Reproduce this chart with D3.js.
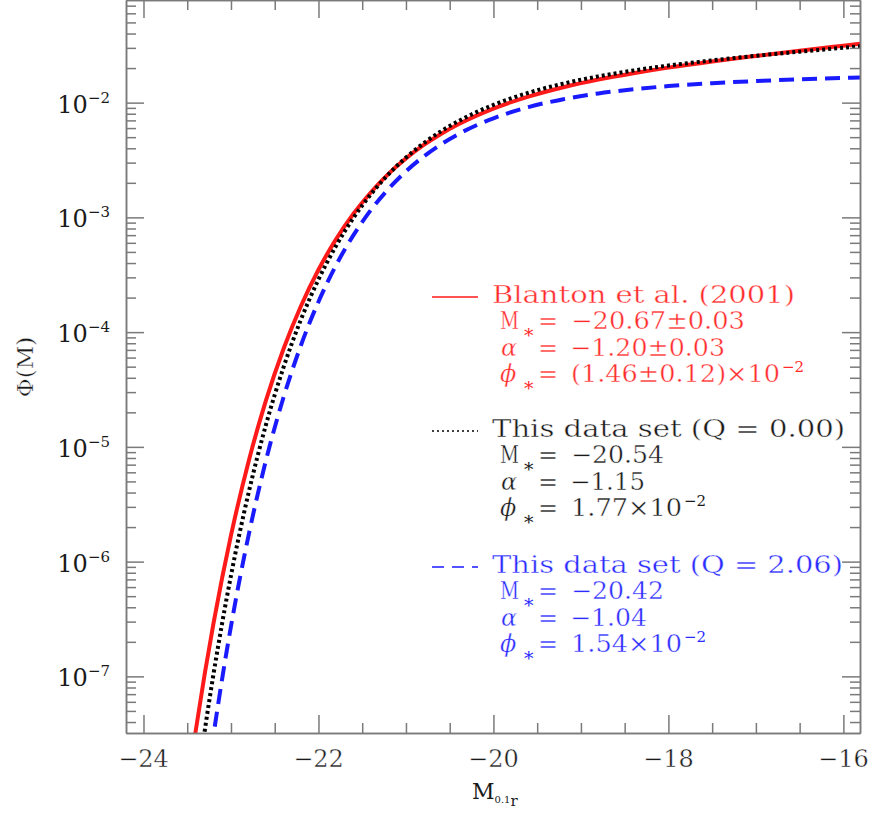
<!DOCTYPE html>
<html>
<head>
<meta charset="utf-8">
<script src="https://cdn.jsdelivr.net/npm/d3@7"></script>
<style>
body { margin: 0; background: #fff; }
text { font-family: "DejaVu Serif", "Liberation Serif", serif; }
text.thin { stroke: #fff; stroke-width: 0.4px; }
</style>
</head>
<body>
<svg></svg>
<script>
const width = 873;
const height = 814;

// absolute magnitude samples
const magnitudes = [-23.6, -23.5, -23.4, -23.3, -23.2, -23.1, -23.0, -22.8, -22.6, -22.4,
    -22.2, -22.0, -21.8, -21.6, -21.4, -21.2, -21.0, -20.8, -20.6, -20.4,
    -20.2, -20.0, -19.6, -19.2, -18.8, -18.4, -18.0, -17.5, -17.0, -16.5, -16.0, -15.8];

// log10 Phi(M) for each curve
const logPhiBlanton = [-8.560, -7.983, -7.458, -6.977, -6.538, -6.138, -5.772, -5.131, -4.595, -4.147,
    -3.772, -3.456, -3.192, -2.969, -2.781, -2.621, -2.486, -2.371, -2.273, -2.189,
    -2.116, -2.052, -1.948, -1.866, -1.799, -1.744, -1.695, -1.641, -1.593, -1.547, -1.504, -1.487];
const logPhiQ0 = [-9.246, -8.601, -8.009, -7.473, -6.981, -6.532, -6.121, -5.405, -4.807, -4.308,
    -3.890, -3.542, -3.250, -3.004, -2.798, -2.625, -2.479, -2.355, -2.250, -2.161,
    -2.085, -2.020, -1.914, -1.834, -1.771, -1.720, -1.677, -1.632, -1.592, -1.556, -1.522, -1.509];
const logPhiQ2 = [-10.025, -9.307, -8.654, -8.057, -7.513, -7.016, -6.563, -5.775, -5.117, -4.570,
    -4.114, -3.735, -3.418, -3.155, -2.935, -2.752, -2.599, -2.471, -2.364, -2.274,
    -2.199, -2.137, -2.039, -1.970, -1.920, -1.884, -1.856, -1.831, -1.812, -1.797, -1.785, -1.781];

// axis ticks
const xMajorTicks = [-24, -22, -20, -18, -16];
const yDecades = [-7, -6, -5, -4, -3, -2];

// legend text
const legendTitles = ["Blanton et al. (2001)", "This data set (Q = 0.00)", "This data set (Q = 2.06)"];
const mStarText = ["\u221220.67\u00b10.03", "\u221220.54", "\u221220.42"];
const alphaText = ["\u22121.20\u00b10.03", "\u22121.15", "\u22121.04"];
const phiStarText = ["(1.46\u00b10.12)\u00d710", "1.77\u00d710", "1.54\u00d710"];
const phiStarExp = ["\u22122", "\u22122", "\u22122"];
const seriesColors = ["#ff1a1a", "#000000", "#1a1aff"];
const textColors = ["#ff2b2b", "#1a1a1a", "#2b2bff"];

const plotLeft = 126, plotRight = 860, plotTop = 0, plotBottom = 733;
const axisColor = "#7a7a7a";

let svg = d3.select("svg")
    .attr("width", width)
    .attr("height", height);

const x = d3.scaleLinear().domain([-24.2, -15.81]).range([plotLeft, plotRight]);
const y = d3.scaleLog().domain([3.21e-8, 7.84e-2]).range([plotBottom, plotTop]);

// clip for curves
svg.append("clipPath").attr("id", "plotClip")
    .append("rect")
    .attr("x", plotLeft).attr("y", plotTop)
    .attr("width", plotRight - plotLeft).attr("height", plotBottom - plotTop);

// curves
const series = [logPhiBlanton, logPhiQ0, logPhiQ2];
const dashes = [null, "3,3", "15,8"];
const line = d3.line()
    .x(d => x(d.m))
    .y(d => y(d.phi))
    .curve(d3.curveMonotoneX);

series.forEach((vals, i) => {
    const pts = magnitudes.map((m, j) => ({ m: m, phi: Math.pow(10, vals[j]) }));
    svg.append("path")
        .datum(pts)
        .attr("clip-path", "url(#plotClip)")
        .attr("d", line)
        .attr("fill", "none")
        .attr("stroke", seriesColors[i])
        .attr("stroke-width", 4)
        .attr("stroke-dasharray", dashes[i]);
});

// minor/major tick values
const xMinor = d3.range(-24, -15.9, 0.5).filter(v => !xMajorTicks.includes(v));
const yMinor = [];
for (let e = -8; e <= -2; e++) {
    for (let k = 2; k <= 9; k++) yMinor.push(k * Math.pow(10, e));
}
const yMinorIn = yMinor.filter(v => v > 3.21e-8 && v < 7.84e-2);
const yMajor = yDecades.map(e => Math.pow(10, e));

function drawAxis(axisFn, scale, values, size, transform) {
    const g = svg.append("g")
        .attr("transform", transform)
        .call(axisFn(scale).tickValues(values).tickSize(size).tickSizeOuter(0).tickFormat(""));
    g.selectAll("line").attr("stroke", axisColor).attr("stroke-width", 1.5);
    g.select(".domain").attr("stroke", axisColor).attr("stroke-width", 1.5);
}

drawAxis(d3.axisBottom, x, xMinor, -10, `translate(0, ${plotBottom})`);
drawAxis(d3.axisBottom, x, xMajorTicks, -18, `translate(0, ${plotBottom})`);
drawAxis(d3.axisTop, x, xMinor, -10, `translate(0, ${plotTop})`);
drawAxis(d3.axisTop, x, xMajorTicks, -18, `translate(0, ${plotTop})`);
drawAxis(d3.axisLeft, y, yMinorIn, -10, `translate(${plotLeft}, 0)`);
drawAxis(d3.axisLeft, y, yMajor, -18, `translate(${plotLeft}, 0)`);
drawAxis(d3.axisRight, y, yMinorIn, -10, `translate(${plotRight}, 0)`);
drawAxis(d3.axisRight, y, yMajor, -18, `translate(${plotRight}, 0)`);

// x tick labels
svg.selectAll(".xlab")
    .data(xMajorTicks)
    .enter()
    .append("text")
    .attr("class", "thin")
    .attr("x", d => x(d))
    .attr("y", 767)
    .attr("text-anchor", "middle")
    .attr("font-size", 24)
    .attr("fill", "#1a1a1a")
    .text(d => "\u2212" + Math.abs(d));

// y tick labels 10^n
yDecades.forEach(e => {
    const t = svg.append("text")
        .attr("x", 110)
        .attr("y", y(Math.pow(10, e)) + 10)
        .attr("text-anchor", "end")
        .attr("fill", "#1a1a1a")
        .attr("font-size", 24);
    t.append("tspan").attr("class", "thin").text("10");
    t.append("tspan").attr("font-size", 15).attr("dy", -10).text("\u2212" + Math.abs(e));
});

// axis titles
svg.append("text")
    .attr("class", "thin")
    .attr("transform", "translate(33, 367) rotate(-90)")
    .attr("text-anchor", "middle")
    .attr("font-size", 23)
    .attr("fill", "#1a1a1a")
    .text("\u03a6(M)");

const xt = svg.append("text")
    .attr("x", 472)
    .attr("y", 799)
    .attr("fill", "#1a1a1a");
xt.append("tspan").attr("font-size", 22).attr("textLength", 18).text("M");
xt.append("tspan").attr("font-size", 10).attr("dy", 4).text("0.1");
xt.append("tspan").attr("font-size", 15).attr("dy", 3).text("r");

// legend
const headerY = [303, 437, 573];
const headerW = [303, 353, 351];
const mW = [174, 93, 93];
const aW = [155, 75, 77];
const pW = [209, 111, 111];

function put(txt, xx, yy, color, size, w, style) {
    const t = svg.append("text")
        .attr("x", xx).attr("y", yy)
        .attr("fill", color)
        .attr("font-size", size)
        .text(txt);
    if (size >= 20) t.attr("class", "thin");
    if (w) t.attr("textLength", w).attr("lengthAdjust", "spacingAndGlyphs");
    if (style) t.attr("font-style", style);
    return t;
}

legendTitles.forEach((title, i) => {
    const c = textColors[i];
    const hy = headerY[i];
    // sample line
    svg.append("line")
        .attr("x1", 432).attr("x2", 478)
        .attr("y1", hy - 6).attr("y2", hy - 6)
        .attr("stroke", seriesColors[i])
        .attr("stroke-width", 1.5)
        .attr("stroke-dasharray", [null, "2,3", "12,8"][i]);
    put(title, 492, hy, c, 24, headerW[i]);

    const y1 = hy + 26, y2 = hy + 53, y3 = hy + 79;
    put("M", 500, y1, c, 24, 19);
    put("*", 524, y1 + 13, c, 19);
    put("=", 538, y1, c, 24);
    put(mStarText[i], 571, y1, c, 24, mW[i]);

    put("\u03b1", 501, y2, c, 24, null, "italic");
    put("=", 538, y2, c, 24);
    put(alphaText[i], 570, y2, c, 24, aW[i]);

    put("\u03d5", 500, y3, c, 24, null, "italic");
    put("*", 524, y3 + 13, c, 19);
    put("=", 538, y3, c, 24);
    put(phiStarText[i], 571, y3, c, 24, pW[i]);
    put(phiStarExp[i], 571 + pW[i] + 2, y3 - 10, c, 15);
});
</script>
</body>
</html>
